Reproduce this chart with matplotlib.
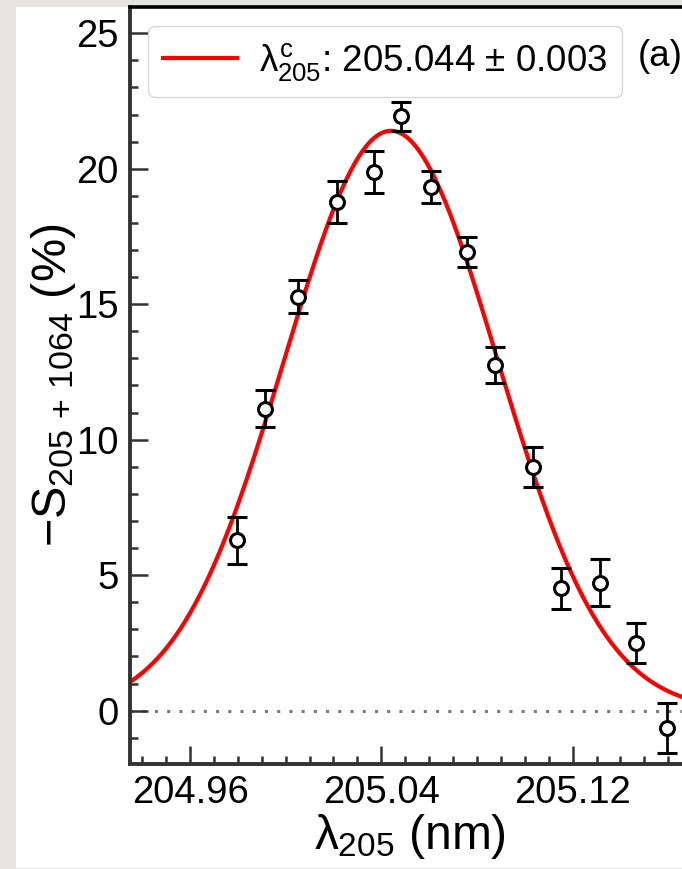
#!/usr/bin/env python3
import matplotlib as mpl
import matplotlib.pyplot as plt
import numpy as np
from matplotlib.patches import Rectangle
from matplotlib.ticker import MultipleLocator

mpl.rcParams["font.family"] = ["Liberation Sans", "DejaVu Sans"]
mpl.rcParams["mathtext.fontset"] = "custom"
mpl.rcParams["mathtext.rm"] = "Liberation Sans"
mpl.rcParams["mathtext.it"] = "Liberation Sans"
mpl.rcParams["mathtext.bf"] = "Liberation Sans:bold"

# measured signal vs. 205 nm wavelength
wavelength = [204.9795, 204.9914, 205.0053, 205.0214, 205.0371, 205.0482, 205.0607,
              205.0757, 205.0876, 205.1033, 205.1152, 205.1315, 205.1465, 205.1594]
signal = [6.29, 11.15, 15.27, 18.77, 19.87, 21.93, 19.32,
          16.92, 12.75, 9.00, 4.51, 4.72, 2.49, -0.65]
signal_err = [0.86, 0.70, 0.61, 0.77, 0.78, 0.52, 0.58,
              0.55, 0.66, 0.74, 0.74, 0.87, 0.74, 0.92]

# gaussian fit parameters
fit_amp = 21.4
fit_center = 205.044
fit_center_err = 0.003
fit_sigma = 0.0445

XLIM = (204.9349, 205.1691)
YLIM = (-1.95, 25.95)

fig = plt.figure(figsize=(6.82, 8.69), dpi=100)
fig.patch.set_facecolor("#e6e4e0")
fig.patches.append(Rectangle((16 / 682, 1 / 869), 1, 861 / 869, transform=fig.transFigure,
                             facecolor="white", edgecolor="none", zorder=-10))

ax = fig.add_axes([130 / 682, 105.5 / 869, 560 / 682, 756 / 869])
ax.set_facecolor("white")

ax.axhline(0, color="#7a7a7a", lw=2.2, linestyle=(0, (1, 3)), zorder=1)

xs = np.linspace(XLIM[0], XLIM[1], 600)
model = fit_amp * np.exp(-(xs - fit_center) ** 2 / (2 * fit_sigma ** 2))
ax.plot(xs, model, color="#ff0000", lw=3,
        label=rf"$\lambda^{{c}}_{{205}}$: {fit_center:.3f} $\pm$ {fit_center_err:.3f}", zorder=2)

ax.errorbar(wavelength, signal, yerr=signal_err, fmt="o", color="black", mfc="white",
            mec="black", ms=10, mew=2.2, elinewidth=2, capsize=7, capthick=2, zorder=3)

ax.set_xlim(*XLIM)
ax.set_ylim(*YLIM)
ax.xaxis.set_major_locator(MultipleLocator(0.08))
ax.xaxis.set_minor_locator(MultipleLocator(0.01))
ax.yaxis.set_major_locator(MultipleLocator(5))
ax.yaxis.set_minor_locator(MultipleLocator(1))
ax.xaxis.set_major_formatter(mpl.ticker.FormatStrFormatter("%.2f"))

ax.tick_params(which="both", direction="in", color="#333333", labelsize=27.5)
ax.tick_params(which="major", length=13, width=1.8, pad=8)
ax.tick_params(which="minor", length=6, width=1.8)
for side in ("left", "bottom"):
    ax.spines[side].set_linewidth(2.8)
    ax.spines[side].set_color("#333333")
ax.spines["top"].set_linewidth(2.6)
ax.spines["top"].set_color("black")
ax.spines["right"].set_visible(False)

ax.set_xlabel(r"$\lambda_{205}$ (nm)", fontsize=34.5, labelpad=1)
ax.set_ylabel(r"$-S_{205\,+\,1064}$ (%)", fontsize=35, labelpad=-1)

ax.legend(loc="upper left", fontsize=26.5, handlelength=2.0, handletextpad=0.6,
          borderpad=0.4, framealpha=0.8)
ax.text(0.907, 0.935, "(a)", transform=ax.transAxes, fontsize=26.5, va="center", ha="left")

fig.savefig("out.png", dpi=100, facecolor=fig.get_facecolor())
